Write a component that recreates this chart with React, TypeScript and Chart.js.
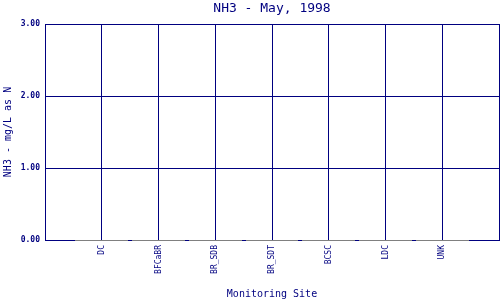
import React, { useEffect, useRef } from "react";
import { Chart, registerables } from "chart.js";

Chart.register(...registerables);

const sites = ["", "DC", "BFCaBR", "BR_SDB", "BR_SDT", "BCSC", "LDC", "UNK", ""];
const nh3Values = [null, 0, 0, 0, 0, 0, 0, 0, null];
const yTicks = [0, 1, 2, 3];
const titleText = "NH3 - May, 1998";
const yTitle = "NH3 - mg/L as N";
const xTitle = "Monitoring Site";

const NAVY = "#000080";
const GREY = "#808080";
const FONT = "'DejaVu Sans Mono', monospace";

// Zero-height bars are drawn as a grey stroke on the baseline, using each bar element's position.
const zeroBarPlugin = {
  id: "zeroBars",
  afterDatasetsDraw(chart: any) {
    const ctx = chart.ctx;
    chart.data.datasets.forEach((ds: any, i: number) => {
      const meta = chart.getDatasetMeta(i);
      meta.data.forEach((bar: any, j: number) => {
        const v = ds.data[j];
        if (v === null || v === undefined) return;
        const props = bar.getProps(["x", "width", "base"], true);
        const y = Math.round(chart.scales.y.getPixelForValue(v) - 0.5) + 0.5;
        ctx.save();
        ctx.strokeStyle = GREY;
        ctx.lineWidth = 1;
        ctx.beginPath();
        ctx.moveTo(Math.round(props.x - props.width / 2), y);
        ctx.lineTo(Math.round(props.x + props.width / 2), y);
        ctx.stroke();
        ctx.restore();
      });
    });
  },
};

export default function App() {
  const ref = useRef<HTMLCanvasElement | null>(null);
  useEffect(() => {
    if (!ref.current) return;
    const chart = new Chart(ref.current, {
      type: "bar",
      data: {
        labels: sites,
        datasets: [
          {
            label: "NH3",
            data: nh3Values as any,
            backgroundColor: "rgba(0,0,0,0)",
            borderWidth: 0,
            barPercentage: 1,
            categoryPercentage: 0.93,
          },
        ],
      },
      plugins: [zeroBarPlugin],
      options: {
        responsive: false,
        animation: false,
        layout: { padding: { top: 0, right: 1, bottom: 0, left: 0 } },
        plugins: {
          legend: { display: false },
          tooltip: { enabled: false },
          title: {
            display: true,
            text: titleText,
            color: NAVY,
            fullSize: false,
            font: { family: FONT, size: 13, weight: "normal", lineHeight: "16px" as any },
            padding: { top: 1, bottom: 7 },
          },
        },
        scales: {
          x: {
            offset: false,
            grid: { color: NAVY, lineWidth: 1, drawTicks: false, offset: false },
            border: { color: NAVY, width: 1 },
            ticks: {
              autoSkip: false,
              maxRotation: 90,
              minRotation: 90,
              padding: 5,
              color: NAVY,
              font: { family: FONT, size: 8 },
            },
            title: {
              display: true,
              text: xTitle,
              color: NAVY,
              font: { family: FONT, size: 10 },
              padding: { top: 0, bottom: 0 },
            },
            afterFit: (s: any) => {
              s.height = 60;
              s.paddingLeft = 0;
              s.paddingRight = 0;
            },
          },
          y: {
            min: 0,
            max: 3,
            afterBuildTicks: (s: any) => {
              s.ticks = yTicks.map((v) => ({ value: v }));
            },
            grid: { color: NAVY, lineWidth: 1, drawTicks: false },
            border: { color: NAVY, width: 1 },
            ticks: {
              padding: 5,
              color: NAVY,
              font: { family: FONT, size: 8, weight: "bold" },
              callback: (v: any) => Number(v).toFixed(2),
            },
            title: {
              display: true,
              text: yTitle,
              color: NAVY,
              font: { family: FONT, size: 10 },
              padding: { top: 2, bottom: 0 },
            },
            afterFit: (s: any) => {
              s.width = 45;
              s.paddingTop = 0;
              s.paddingBottom = 0;
            },
          },
        },
      },
    });
    return () => chart.destroy();
  }, []);
  return (
    <div style={{ position: "absolute", left: 0, top: 0, width: 500, height: 300, background: "#fff" }}>
      <canvas ref={ref} width={500} height={300} />
    </div>
  );
}
